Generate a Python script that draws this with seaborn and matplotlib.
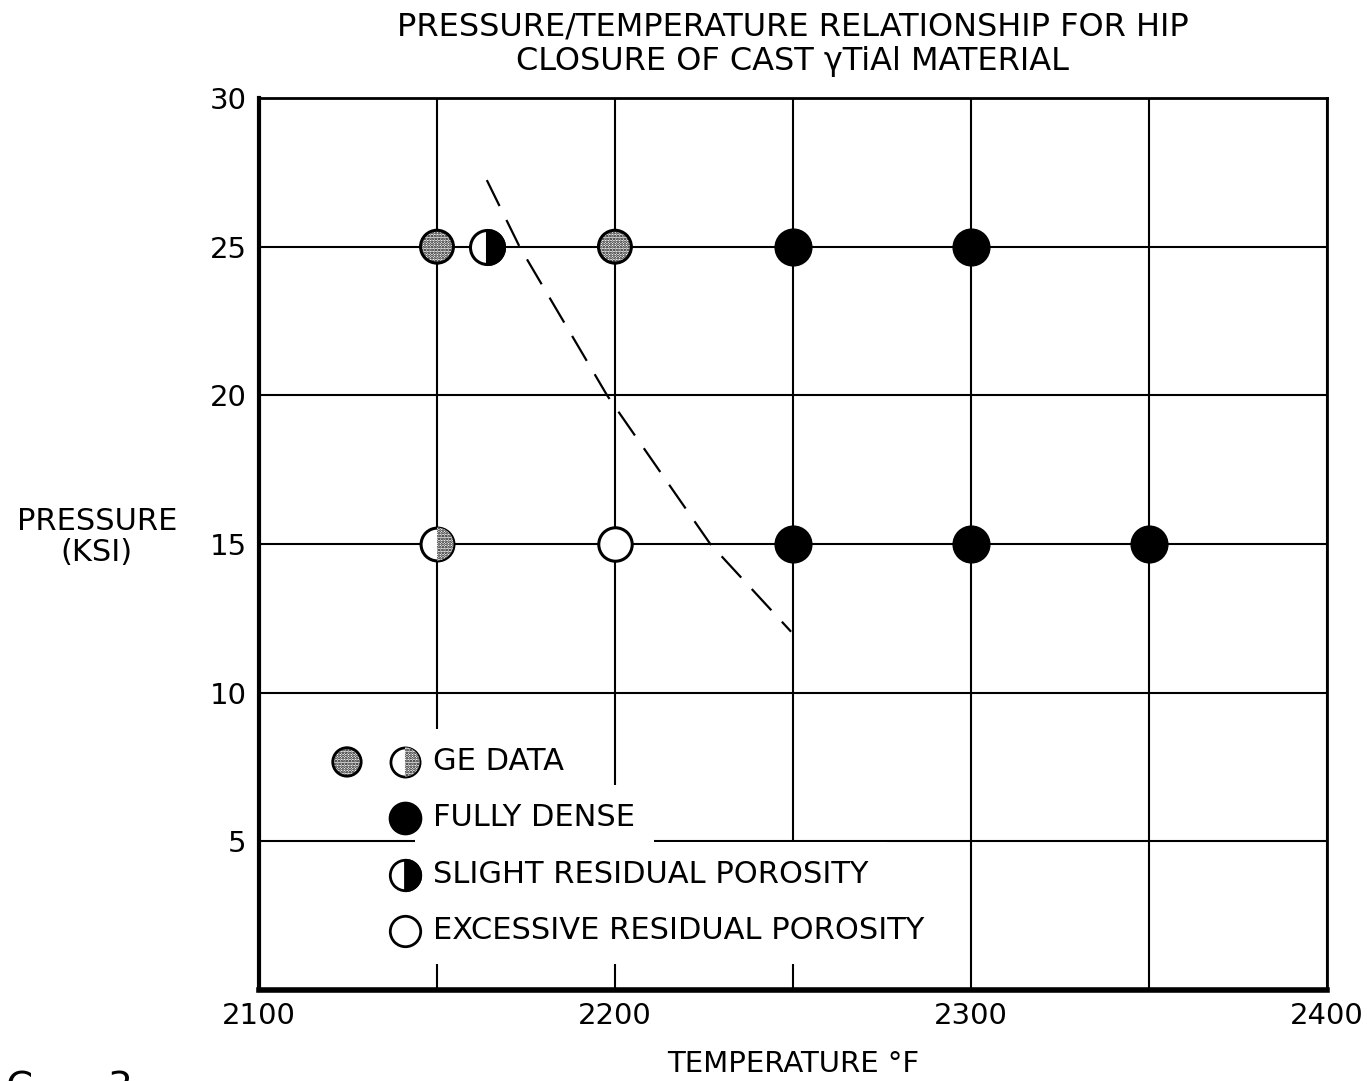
import matplotlib
matplotlib.use("Agg")
import matplotlib.pyplot as plt
from matplotlib.markers import MarkerStyle
from matplotlib.ticker import MultipleLocator
import seaborn as sns

# HIP closure results
ge_temp = [2150, 2200]
ge_pres = [25, 25]
ge_half_temp = [2150]
ge_half_pres = [15]
dense_temp = [2250, 2300, 2250, 2300, 2350]
dense_pres = [25, 25, 15, 15, 15]
slight_temp = [2164]
slight_pres = [25]
excess_temp = [2200]
excess_pres = [15]

# dashed closure boundary
bound_temp = [2164, 2173.2, 2197.8, 2226.8, 2249.5]
bound_pres = [27.24, 25.0, 20.0, 15.0, 12.05]

legend_labels = ["GE DATA", "FULLY DENSE", "SLIGHT RESIDUAL POROSITY", "EXCESSIVE RESIDUAL POROSITY"]

sns.set_style("white")
plt.rcParams['font.family'] = ['DejaVu Sans']
plt.rcParams['text.color'] = 'black'
plt.rcParams['axes.labelcolor'] = 'black'
plt.rcParams['xtick.color'] = 'black'
plt.rcParams['ytick.color'] = 'black'
plt.rcParams['hatch.color'] = 'black'
plt.rcParams['hatch.linewidth'] = 1.3

fig = plt.figure(figsize=(13.67, 10.81), dpi=100)
ax = fig.add_axes([0.1895, 0.0842, 0.7810, 0.8251])

right_half = MarkerStyle('o', fillstyle='right')
speckle = '......'

# data points
sns.scatterplot(x=ge_temp, y=ge_pres, ax=ax, s=560, color='white', edgecolor='black',
                linewidth=2.2, hatch=speckle, zorder=5)
sns.scatterplot(x=ge_half_temp, y=ge_half_pres, ax=ax, s=560, color='white',
                edgecolor='black', linewidth=2.2, zorder=5)
sns.scatterplot(x=ge_half_temp, y=ge_half_pres, ax=ax, s=560, marker=right_half,
                color='white', edgecolor='black', linewidth=0, hatch=speckle, zorder=6)
sns.scatterplot(x=dense_temp, y=dense_pres, ax=ax, s=700, color='black',
                edgecolor='black', linewidth=1, zorder=5)
sns.scatterplot(x=slight_temp, y=slight_pres, ax=ax, s=600, color='white',
                edgecolor='black', linewidth=2.2, zorder=5)
sns.scatterplot(x=slight_temp, y=slight_pres, ax=ax, s=600, marker=right_half,
                color='black', edgecolor='black', linewidth=2.2, zorder=6)
sns.scatterplot(x=excess_temp, y=excess_pres, ax=ax, s=580, color='white',
                edgecolor='black', linewidth=2.2, zorder=5)

sns.lineplot(x=bound_temp, y=bound_pres, ax=ax, sort=False, color='black',
             linewidth=1.6, dashes=(13, 7), zorder=4)

# legend drawn inside the plot, text boxes mask the grid
leg_x = 2141
txt_x = 2149
row_y = [7.67, 5.79, 3.87, 1.99]
for lab, yy in zip(legend_labels, row_y):
    ax.text(txt_x, yy, lab, fontsize=22, va='center', ha='left', zorder=7,
            bbox=dict(boxstyle='square,pad=0.6', facecolor='white', edgecolor='none'))
ax.scatter([2124.7], [row_y[0]], s=420, color='white', edgecolor='black', linewidth=2,
           hatch=speckle, zorder=8)
ax.scatter([leg_x], [row_y[0]], s=440, color='white', edgecolor='black', linewidth=2, zorder=8)
ax.scatter([leg_x], [row_y[0]], s=440, marker=right_half, color='white', edgecolor='black',
           linewidth=0, hatch=speckle, zorder=9)
ax.scatter([leg_x], [row_y[1]], s=540, color='black', edgecolor='black', zorder=8)
ax.scatter([leg_x], [row_y[2]], s=480, color='white', edgecolor='black', linewidth=2, zorder=8)
ax.scatter([leg_x], [row_y[2]], s=480, marker=right_half, color='black', edgecolor='black',
           linewidth=2, zorder=9)
ax.scatter([leg_x], [row_y[3]], s=480, color='white', edgecolor='black', linewidth=2, zorder=8)

ax.set_xlim(2100, 2400)
ax.set_ylim(0, 30)
ax.xaxis.set_major_locator(MultipleLocator(100))
ax.xaxis.set_minor_locator(MultipleLocator(50))
ax.set_yticks([5, 10, 15, 20, 25, 30])
ax.grid(True, which='both', color='black', linewidth=1.5, zorder=1)
ax.set_axisbelow(True)
ax.tick_params(axis='both', which='both', length=0, labelsize=21)
ax.tick_params(axis='x', pad=9)
ax.tick_params(axis='y', pad=9)

for side, lw in [('left', 3), ('bottom', 4), ('top', 2), ('right', 2)]:
    ax.spines[side].set_linewidth(lw)
    ax.spines[side].set_color('black')

ax.set_xlabel("TEMPERATURE °F", fontsize=21, labelpad=14)
ax.set_ylabel("PRESSURE\n(KSI)", fontsize=22, rotation=0, ha='center', va='center',
              linespacing=1.1)
ax.yaxis.set_label_coords(-0.152, 0.508)
ax.set_title("PRESSURE/TEMPERATURE RELATIONSHIP FOR HIP\nCLOSURE OF CAST γTiAl MATERIAL",
             fontsize=23, pad=20, linespacing=1.15)

# clipped caption fragments at the bottom edge
fig.text(0.004, 0.010, "C", fontsize=28, va='top', ha='left')
fig.text(0.078, 0.010, "3", fontsize=28, va='top', ha='left')

fig.savefig("out.png", dpi=100)
